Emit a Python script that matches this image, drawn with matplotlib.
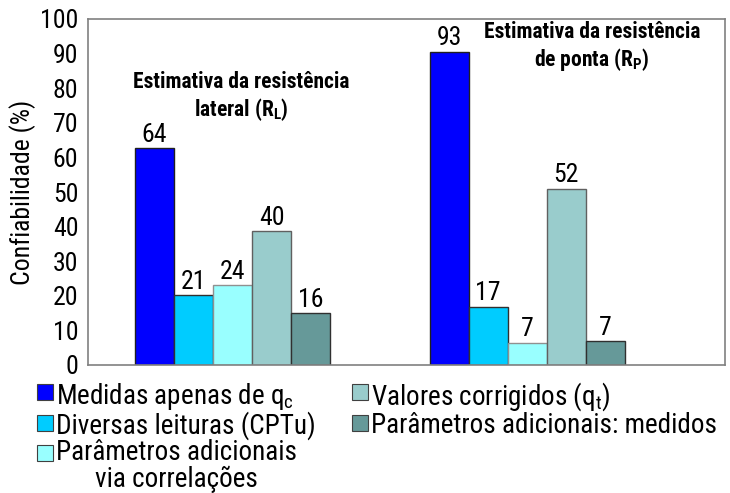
import matplotlib
matplotlib.use('Agg')
import matplotlib.pyplot as plt
from matplotlib.patches import Rectangle
import numpy as np

# condensed sans, close to the Arial Narrow of the original
FONT = 'Roboto Condensed'
plt.rcParams['font.family'] = [FONT, 'DejaVu Sans']
plt.rcParams['mathtext.fontset'] = 'custom'
plt.rcParams['mathtext.rm'] = FONT
plt.rcParams['mathtext.it'] = FONT
plt.rcParams['mathtext.bf'] = FONT + ':bold'

# DATA
groups = ['lateral', 'ponta']
series = ['Medidas apenas de q$_\\mathrm{c}$',
          'Diversas leituras (CPTu)',
          'Parâmetros adicionais\nvia correlações',
          'Valores corrigidos (q$_\\mathrm{t}$)',
          'Parâmetros adicionais: medidos']
colors = ['#0000FF', '#00CCFF', '#99FFFF', '#99CCCC', '#669999']
edges = ['#202020', '#303030', '#909090', '#606060', '#303030']
# bar heights as drawn, and the printed value labels
heights_lateral = [62.6, 20.2, 23.1, 38.7, 14.9]
heights_ponta = [90.5, 16.9, 6.4, 50.9, 6.8]
labels_lateral = [64, 21, 24, 40, 16]
labels_ponta = [93, 17, 7, 52, 7]
group_titles = ['Estimativa da resistência\nlateral (R$_\\mathbf{L}$)',
                'Estimativa da resistência\nde ponta (R$_\\mathbf{P}$)']
yticks = list(range(0, 101, 10))

W, H = 730, 493
fig = plt.figure(figsize=(W / 100, H / 100), dpi=100)
ax = fig.add_axes([88 / W, 1 - 365 / H, (725 - 88) / W, (365 - 19) / H])

width = 0.1323
x = np.arange(len(groups))
heights = [heights_lateral, heights_ponta]
labels = [labels_lateral, labels_ponta]
for i in range(len(series)):
    hs = [heights[g][i] for g in range(len(groups))]
    bars = ax.bar(x + (i - 2) * width, hs, width, color=colors[i],
                  edgecolor=edges[i], linewidth=1.0, zorder=2)
    for g, b in enumerate(bars):
        ax.annotate(str(labels[g][i]), (b.get_x() + b.get_width() / 2, b.get_height()),
                    xytext=(0, 1), textcoords='offset points',
                    ha='center', va='bottom', fontsize=18.5)

ax.set_xlim(-0.4903, 1.671)
ax.set_ylim(0, 100)
ax.set_xticks([])
ax.set_yticks(yticks)
ax.tick_params(axis='y', length=0, pad=7, labelsize=18.5)
for s in ax.spines.values():
    s.set_color('#808080')
    s.set_linewidth(1.2)
ax.set_ylabel('Confiabilidade (%)', fontsize=18.5)
ax.yaxis.set_label_coords(-0.082, 0.5)

# group titles
ax.text(0.03, 77.5, group_titles[0], ha='center', va='center', fontsize=15.5,
        fontweight='bold', linespacing=1.15)
ax.text(1.22, 92.0, group_titles[1], ha='center', va='center', fontsize=15.5,
        fontweight='bold', linespacing=1.15)

# legend drawn by hand below the axes
rows = [0, 1, 2, 0, 1]
cols = [0, 0, 0, 1, 1]
col_x = [37, 352]
row_y = [392, 422.5, 452.5]
box = 16
for i, name in enumerate(series):
    x0 = col_x[cols[i]]
    y0 = row_y[rows[i]]
    fig.add_artist(Rectangle((x0 / W, 1 - (y0 + box / 2) / H), box / W, box / H,
                             transform=fig.transFigure, facecolor=colors[i],
                             edgecolor='#404040', linewidth=0.8))
    t = fig.text((x0 + box + 3) / W, 1 - y0 / H, name, fontsize=19.5,
                 ha='left', va='center_baseline', multialignment='center',
                 linespacing=1.0)
    if '\n' in name:
        t.set_va('top')
        t.set_y(1 - (y0 - 14) / H)

fig.savefig('out.png', dpi=100)
